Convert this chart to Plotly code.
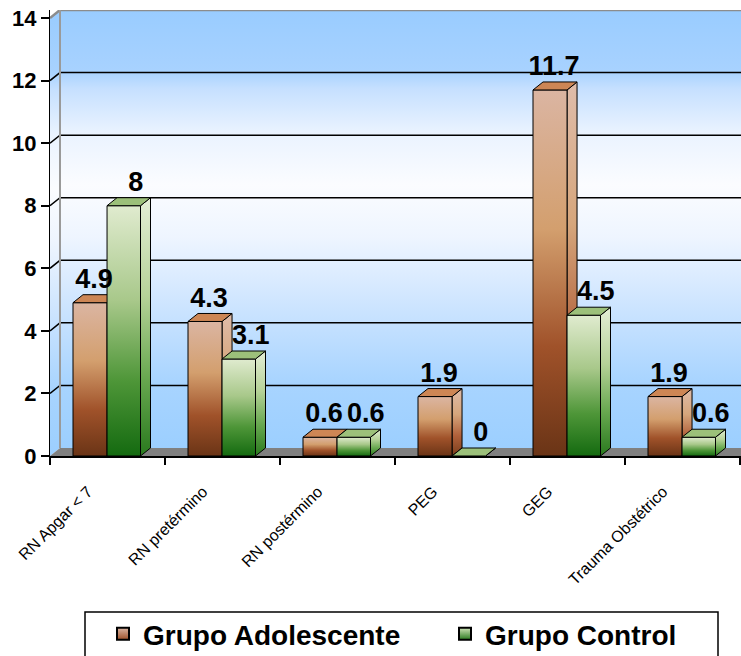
import plotly.graph_objects as go

# ---- data ----
categories = ["RN Apgar < 7", "RN pretérmino", "RN postérmino", "PEG", "GEG", "Trauma Obstétrico"]
adolescente = [4.9, 4.3, 0.6, 1.9, 11.7, 1.9]
control = [8, 3.1, 0.6, 0, 4.5, 0.6]
series_names = ["Grupo Adolescente", "Grupo Control"]
y_ticks = [0, 2, 4, 6, 8, 10, 12, 14]

# ---- geometry (pixels) ----
W, H = 741, 656
ML, MR, MT, MB = 50, 0, 10, 200
plot_w = W - ML - MR
plot_h = H - MT - MB
CAT_PX = 115            # width of one category on the front axis
DX_PX, DY_PX = 10, 8    # 3D depth offset
y_max = max(y_ticks)
px_per_unit = (plot_h - DY_PX) / y_max
dx = DX_PX / CAT_PX
dy = DY_PX / px_per_unit
x_max = plot_w / CAT_PX

# bar slots inside a category (category units) and label nudges (px)
slots = [(0.20, 0.496), (0.496, 0.787)]
label_nudge_px = [4, 12]

FONT = "Liberation Sans, Arial, sans-serif"

orange_front = [[0, "#6a3416"], [0.3, "#a0522a"], [0.62, "#d39f6e"], [1, "#dbb5a2"]]
orange_side = [[0, "#7a3e1c"], [0.3, "#b0603a"], [0.62, "#d6a67c"], [1, "#dfbcaa"]]
orange_top = "#cd8655"
green_front = [[0, "#146a10"], [0.3, "#4e9638"], [0.62, "#a8c88a"], [1, "#e0ebcf"]]
green_side = [[0, "#2a7a1e"], [0.3, "#68a850"], [0.62, "#b6d298"], [1, "#e4eed6"]]
green_top = "#9cc07a"
legend_colors = [("#a0522a", "#dbb5a2"), ("#2a7a1e", "#d0e4b8")]
wall_scale = [[0, "#9ccfff"], [0.15, "#a8d4ff"], [0.32, "#cce4ff"], [0.48, "#eef5ff"],
              [0.6, "#fbfcff"], [0.72, "#eaf3ff"], [0.82, "#c6e0ff"], [0.86, "#a8d2ff"],
              [1, "#99ccff"]]

fig = go.Figure()


def poly(xs, ys, scale=None, color=None, line_color="black", line_w=1, **kw):
    xs = list(xs) + [xs[0]]
    ys = list(ys) + [ys[0]]
    d = dict(x=xs, y=ys, mode="lines", fill="toself", hoverinfo="skip",
             line=dict(color=line_color, width=line_w), showlegend=False)
    if scale is not None:
        d["fillgradient"] = dict(type="vertical", colorscale=scale)
    else:
        d["fillcolor"] = color
    d.update(kw)
    fig.add_trace(go.Scatter(**d))


def line(xs, ys, color="black", width=1.5):
    fig.add_trace(go.Scatter(x=xs, y=ys, mode="lines", hoverinfo="skip",
                             line=dict(color=color, width=width), showlegend=False))


# back wall, side wall and floor
clear = "rgba(0,0,0,0)"
poly([dx, x_max, x_max, dx], [dy, dy, y_max + dy, y_max + dy], scale=wall_scale,
     line_w=0, line_color=clear)
poly([0, dx, dx, 0], [0, dy, y_max + dy, y_max], scale=wall_scale, line_w=0, line_color=clear)
poly([0, x_max, x_max, dx], [0, 0, dy, dy], color="#808080", line_w=0, line_color=clear)

# gridlines on the walls
for v in y_ticks[1:-1]:
    line([0, dx, x_max], [v, v + dy, v + dy], "black", 1.5)
line([0, dx, x_max], [y_max, y_max + dy, y_max + dy], "#8c8c8c", 2.5)
line([dx, dx], [dy, y_max + dy], "#9a9a9a", 2)

# 3D bars
series = [(adolescente, orange_front, orange_side, orange_top),
          (control, green_front, green_side, green_top)]
for i in range(len(categories)):
    for s, (vals, sc_front, sc_side, top_col) in enumerate(series):
        v = vals[i]
        x0 = i + slots[s][0]
        x1 = i + slots[s][1]
        poly([x1, x1 + dx, x1 + dx, x1], [0, dy, v + dy, v], scale=sc_side)
        poly([x0, x1, x1, x0], [0, 0, v, v], scale=sc_front, legendgroup=series_names[s])
        poly([x0, x1, x1 + dx, x0 + dx], [v, v, v + dy, v + dy], color=top_col,
             legendgroup=series_names[s])

# legend keys (square swatches), one legend box entry each
legend_ids = ["legend", "legend2"]
for s, name in enumerate(series_names):
    dark, light = legend_colors[s]
    fig.add_trace(go.Scatter(
        x=[None], y=[None], mode="markers", name=name, legendgroup=name,
        legend=legend_ids[s],
        marker=dict(symbol="square", size=16, color=light,
                    gradient=dict(type="vertical", color=dark),
                    line=dict(color="black", width=1))))

# value labels
for s, vals in enumerate([adolescente, control]):
    off = (slots[s][0] + slots[s][1]) / 2 + label_nudge_px[s] / CAT_PX
    xs = [i + off for i in range(len(categories))]
    ys = [v + dy for v in vals]
    fig.add_trace(go.Scatter(
        x=xs, y=ys, mode="text", text=[f"{v:g}" for v in vals],
        textposition="top center", cliponaxis=False, hoverinfo="skip", showlegend=False,
        textfont=dict(family=FONT, size=27, color="black", weight="bold")))

# legend frame
fig.add_shape(type="rect", xref="paper", yref="paper",
              x0=(85 - ML) / plot_w, x1=(718 - ML) / plot_w,
              y0=-(662 - (H - MB)) / plot_h, y1=-(612 - (H - MB)) / plot_h,
              line=dict(color="black", width=1.5), fillcolor="rgba(0,0,0,0)")

legend_style = dict(orientation="h", xref="container", yref="container",
                    xanchor="left", y=(H - 634) / H, yanchor="middle",
                    font=dict(family=FONT, size=28, color="black", weight="bold"),
                    bgcolor="rgba(0,0,0,0)", itemsizing="constant")

fig.update_layout(
    width=W, height=H,
    margin=dict(l=ML, r=MR, t=MT, b=MB, autoexpand=False),
    paper_bgcolor="white", plot_bgcolor="white",
    showlegend=True,
    legend=dict(x=103 / W, **legend_style),
    legend2=dict(x=445 / W, **legend_style),
    xaxis=dict(range=[0, x_max], showgrid=False, zeroline=False, automargin=False,
               showline=True, linecolor="black", linewidth=2,
               tickmode="array", tickvals=[i + 0.33 for i in range(len(categories))],
               ticktext=categories, ticks="", tickangle=-45,
               tickfont=dict(family=FONT, size=16, color="black"),
               ticklabelstandoff=18,
               minor=dict(tickmode="array", tickvals=list(range(len(categories) + 1)),
                          ticks="outside", ticklen=7, tickcolor="black", tickwidth=1.5)),
    yaxis=dict(range=[0, y_max + dy], showgrid=False, zeroline=False, automargin=False,
               showline=True, linecolor="black", linewidth=1,
               tickmode="array", tickvals=y_ticks, ticks="outside", ticklen=8,
               tickcolor="black", tickwidth=1.5,
               tickfont=dict(family=FONT, size=22, color="black", weight="bold")),
)

fig.write_html("out.html")
